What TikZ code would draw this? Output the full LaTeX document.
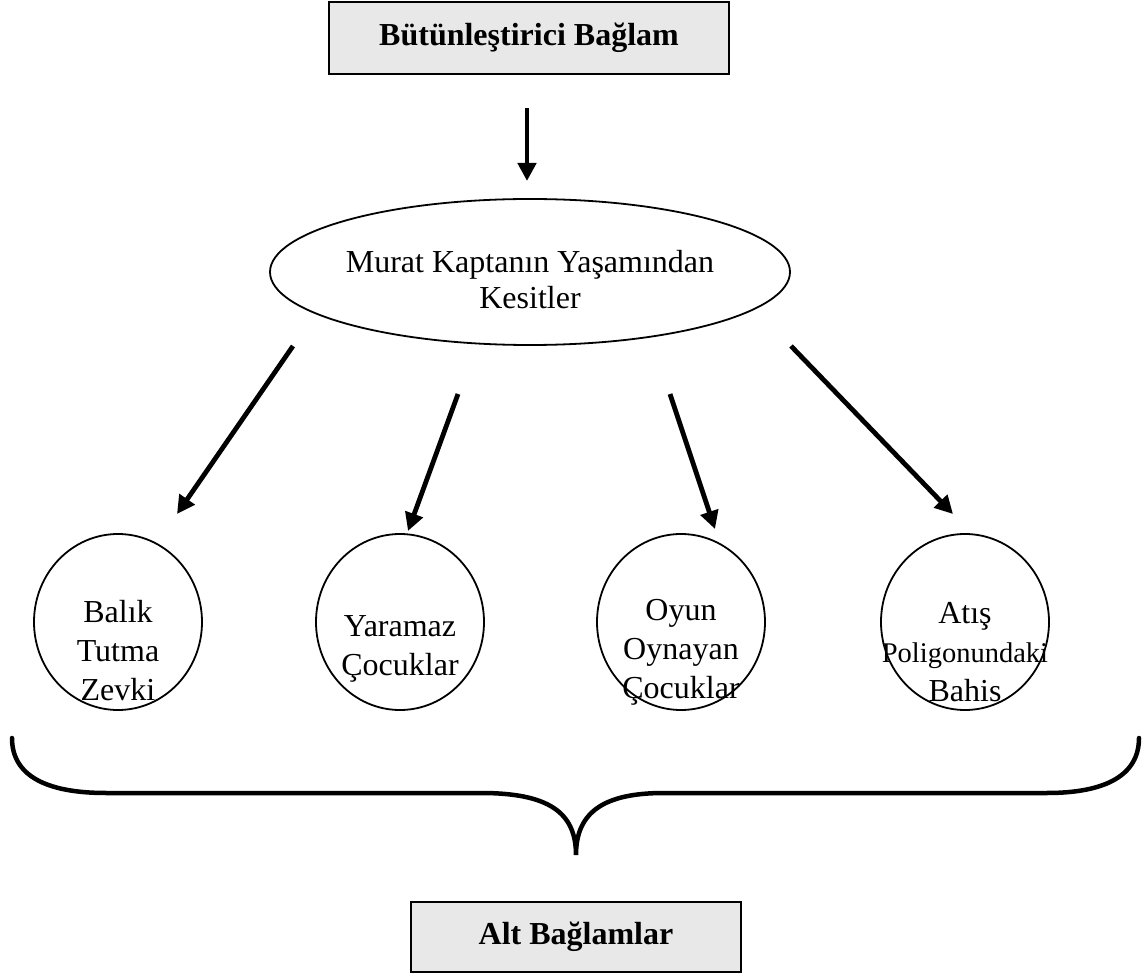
\documentclass[tikz,border=0pt]{standalone}
\usepackage{fontspec}
\setmainfont{Liberation Serif}
\usetikzlibrary{shapes.geometric,arrows.meta}
\definecolor{boxfill}{HTML}{E8E8E8}
\tikzset{
  titlebox/.style={draw=black, line width=1.8pt, fill=boxfill, minimum width=400pt,
    minimum height=72pt, inner sep=0pt, font=\fontsize{32}{38}\selectfont\bfseries},
  bigell/.style={draw=black, line width=1.8pt, ellipse, minimum width=520pt,
    minimum height=146pt, inner sep=0pt},
  smallell/.style={draw=black, line width=1.8pt, ellipse, minimum width=168pt,
    minimum height=176pt, inner sep=0pt},
  lbl/.style={align=center, inner sep=0pt, font=\fontsize{32}{39}\selectfont},
  thickarrow/.style={line width=4.8pt, -{Triangle[length=18pt,width=18pt]}},
  bracepath/.style={line width=4.5pt, line cap=round}
}
\begin{document}
\begin{tikzpicture}[x=1pt,y=-1pt]
  \useasboundingbox[fill=white] (0,0) rectangle (1144,973);

  % title and footer boxes
  \node[titlebox] (ctx) at (529,38) {Bütünleştirici Bağlam};
  \node[titlebox, minimum width=330pt, minimum height=70pt] (sub) at (576,937) {Alt Bağlamlar};

  % central ellipse
  \node[bigell] (main) at (530,272) {};
  \node[lbl, font=\fontsize{32}{36}\selectfont] (maintxt) at ([yshift=-8pt]main.center)
    {Murat Kaptanın Yaşamından\\Kesitler};

  % four sub-context ellipses
  \node[smallell] (e1) at (118,622) {};
  \node[smallell] (e2) at (400,622) {};
  \node[smallell] (e3) at (681,622) {};
  \node[smallell] (e4) at (965,622) {};
  \node[lbl] (t1) at ([yshift=-29pt]e1.center) {Balık\\Tutma\\Zevki};
  \node[lbl] (t2) at ([yshift=-27pt]e2.center) {Yaramaz\\Çocuklar};
  \node[lbl] (t3) at ([yshift=-30pt]e3.center) {Oyun\\Oynayan\\Çocuklar};
  \node[lbl] (t4) at ([yshift=-30pt]e4.center)
    {Atış\\{\fontsize{28.5}{39}\selectfont Poligonundaki}\\Bahis};

  % arrow end points
  \coordinate (a0s) at (527,108);  \coordinate (a0e) at (527,181);
  \coordinate (a1s) at (293,346);  \coordinate (a1e) at (177,514);
  \coordinate (a2s) at (458,394);  \coordinate (a2e) at (408,531);
  \coordinate (a3s) at (670,394);  \coordinate (a3e) at (715,529);
  \coordinate (a4s) at (791,346);  \coordinate (a4e) at (953,514);

  \draw[thickarrow] (a0s) -- (a0e);
  \draw[thickarrow] (a1s) -- (a1e);
  \draw[thickarrow] (a2s) -- (a2e);
  \draw[thickarrow] (a3s) -- (a3e);
  \draw[thickarrow] (a4s) -- (a4e);

  % curly brace grouping the sub-contexts
  \coordinate (bl) at (12,738);
  \coordinate (br) at (1139,738);
  \coordinate (tip) at (576,855);
  \draw[bracepath] (bl) .. controls (12,775) and (45,793) .. (106,793)
    -- (481,793) .. controls (548,793) and (576,812) .. (tip)
    .. controls (576,812) and (604,793) .. (664,793)
    -- (1047,793) .. controls (1106,793) and (1139,775) .. (br);
\end{tikzpicture}
\end{document}
